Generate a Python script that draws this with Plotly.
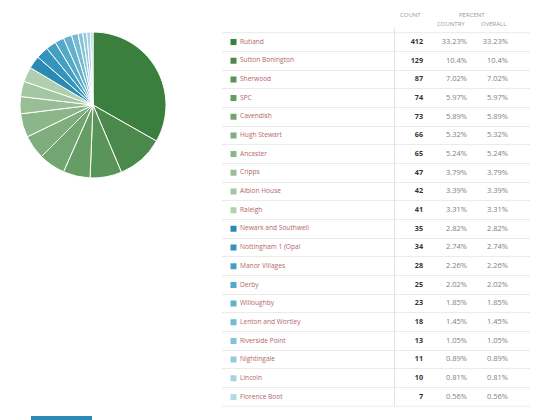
import plotly.graph_objects as go

names = ["Rutland", "Sutton Bonington", "Sherwood", "SPC", "Cavendish", "Hugh Stewart",
         "Ancaster", "Cripps", "Albion House", "Raleigh", "Newark and Southwell",
         "Nottingham 1 (Opal", "Manor Villages", "Derby", "Willoughby", "Lenton and Wortley",
         "Riverside Point", "Nightingale", "Lincoln", "Florence Boot"]
counts = [412, 129, 87, 74, 73, 66, 65, 47, 42, 41, 35, 34, 28, 25, 23, 18, 13, 11, 10, 7]
pct_country = ["33.23%", "10.4%", "7.02%", "5.97%", "5.89%", "5.32%", "5.24%", "3.79%", "3.39%",
               "3.31%", "2.82%", "2.74%", "2.26%", "2.02%", "1.85%", "1.45%", "1.05%", "0.89%",
               "0.81%", "0.56%"]
pct_overall = list(pct_country)
colors = ["#3b7f3e", "#4a894b", "#599458", "#669d65", "#73a572", "#7fad7e", "#8bb68a",
          "#98be96", "#a4c6a2", "#b1cfae", "#2a8ab3", "#3494bb", "#44a0c2", "#54a9c7",
          "#64b1cc", "#74bad2", "#84c2d7", "#94cadc", "#a5d2e2", "#b5dae7"]

W, H = 540, 420
FONT = "Open Sans"
LABEL_COL = "#b4656a"

fig = go.Figure()

fig.add_trace(go.Pie(
    labels=names, values=counts, sort=False, direction="clockwise", rotation=0,
    marker=dict(colors=colors, line=dict(color="white", width=1)),
    textinfo="none", hoverinfo="skip", showlegend=False,
    domain=dict(x=[20 / W, 166 / W], y=[(H - 178) / H, (H - 32) / H]),
))

# table columns (pixel x positions on the table axis)
X_SQ, X_LABEL, X_COUNT, X_CTRY, X_OVR = 233.5, 240, 423, 467, 508

fig.add_trace(go.Scatter(
    x=[X_SQ] * len(names), y=names, mode="markers",
    marker=dict(symbol="square", size=6, color=colors), hoverinfo="skip", showlegend=False))
fig.add_trace(go.Scatter(
    x=[X_LABEL] * len(names), y=names, mode="text", text=names, textposition="middle right",
    textfont=dict(family=FONT, size=6.6, color=LABEL_COL), hoverinfo="skip", showlegend=False))
fig.add_trace(go.Scatter(
    x=[X_COUNT] * len(names), y=names, mode="text", text=[f"<b>{c}</b>" for c in counts],
    textposition="middle left",
    textfont=dict(family=FONT, size=7.2, color="#333333"), hoverinfo="skip", showlegend=False))
fig.add_trace(go.Scatter(
    x=[X_CTRY] * len(names), y=names, mode="text", text=pct_country, textposition="middle left",
    textfont=dict(family=FONT, size=7.5, color="#808080"), hoverinfo="skip", showlegend=False))
fig.add_trace(go.Scatter(
    x=[X_OVR] * len(names), y=names, mode="text", text=pct_overall, textposition="middle left",
    textfont=dict(family=FONT, size=7.5, color="#808080"), hoverinfo="skip", showlegend=False))

top_px, bot_px = 32.7, 406.3
n = len(names)
hdr_font = dict(family=FONT, size=6, color="#9a9a9a")
fig.update_layout(
    width=W, height=H, margin=dict(l=0, r=0, t=0, b=0),
    paper_bgcolor="white", plot_bgcolor="white",
    xaxis=dict(domain=[222 / W, 530 / W], range=[222, 530], visible=False, fixedrange=True),
    yaxis=dict(domain=[(H - bot_px) / H, (H - top_px) / H], type="category",
               categoryorder="array", categoryarray=names, range=[n - 0.5, -0.5],
               tickson="boundaries", showgrid=True, gridcolor="#ebebeb", gridwidth=1,
               showticklabels=False, ticks="", zeroline=False, showline=False, fixedrange=True),
    shapes=[
        dict(type="line", xref="x", yref="paper", x0=394.5, x1=394.5,
             y0=(H - 406) / H, y1=(H - 28) / H, line=dict(color="#e2e2e2", width=1)),
        dict(type="line", xref="x", yref="paper", x0=222, x1=530,
             y0=(H - bot_px) / H, y1=(H - bot_px) / H, line=dict(color="#ebebeb", width=1)),
        dict(type="line", xref="x", yref="paper", x0=222, x1=530,
             y0=(H - top_px) / H, y1=(H - top_px) / H, line=dict(color="#ebebeb", width=1)),
        dict(type="rect", xref="paper", yref="paper", x0=31 / W, x1=92 / W,
             y0=0, y1=4 / H, fillcolor="#2a8ab5", line=dict(width=0)),
    ],
    annotations=[
        dict(text="COUNT", xref="x", yref="paper", x=423, y=(H - 15) / H, xanchor="right",
             yanchor="middle", showarrow=False, font=hdr_font),
        dict(text="PERCENT", xref="x", yref="paper", x=472, y=(H - 15) / H, xanchor="center",
             yanchor="middle", showarrow=False, font=hdr_font),
        dict(text="COUNTRY", xref="x", yref="paper", x=467, y=(H - 24) / H, xanchor="right",
             yanchor="middle", showarrow=False, font=hdr_font),
        dict(text="OVERALL", xref="x", yref="paper", x=508, y=(H - 24) / H, xanchor="right",
             yanchor="middle", showarrow=False, font=hdr_font),
    ],
)

fig.write_html("out.html", config={"displayModeBar": False},
               post_script="document.body.style.margin='0';")
